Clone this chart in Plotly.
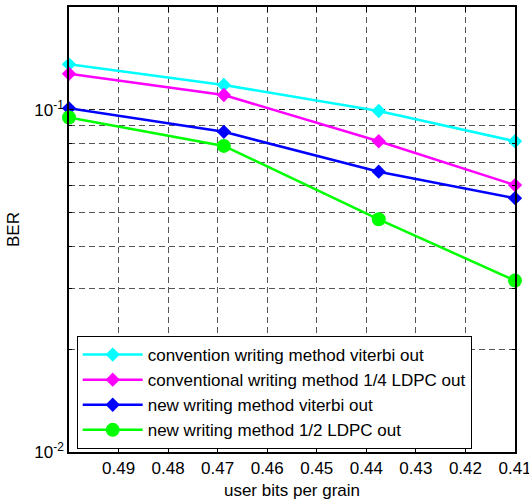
import plotly.graph_objects as go

x_bits = [0.5, 0.46875, 0.4375, 0.41]
conv_viterbi = [0.136, 0.1183, 0.0993, 0.081]
conv_ldpc14 = [0.1276, 0.1106, 0.081, 0.0603]
new_viterbi = [0.1011, 0.0863, 0.066, 0.0552]
new_ldpc12 = [0.0950, 0.0785, 0.0479, 0.0317]

names = [
    "convention writing method viterbi out",
    "conventional writing method 1/4 LDPC out",
    "new writing method viterbi out",
    "new writing method 1/2 LDPC out",
]
series = [conv_viterbi, conv_ldpc14, new_viterbi, new_ldpc12]
colors = ["#00FFFF", "#FF00FF", "#0000FF", "#00FF00"]
symbols = ["diamond", "diamond", "diamond", "circle"]
sizes = [11, 11, 11, 14]

x_ticks = [0.49, 0.48, 0.47, 0.46, 0.45, 0.44, 0.43, 0.42, 0.41]
y_major = [0.01, 0.1]
y_major_text = ["10<sup>-2</sup>", "10<sup>-1</sup>"]
y_minor = [0.02, 0.03, 0.04, 0.05, 0.06, 0.07, 0.08, 0.09]

fig = go.Figure()
for i, (n, s, c, sym, sz) in enumerate(zip(names, series, colors, symbols, sizes)):
    fig.add_trace(go.Scatter(
        x=x_bits, y=s, name=n, mode="lines+markers",
        line=dict(color=c, width=2.5),
        marker=dict(symbol=sym, size=sz, color=c),
        cliponaxis=False, legendgroup=str(i),
    ))

font = dict(family="Liberation Sans, Arial, sans-serif", size=17, color="#000")
fig.update_layout(
    width=529, height=501,
    margin=dict(l=69, r=14, t=7, b=49),
    paper_bgcolor="white", plot_bgcolor="white",
    font=font,
    showlegend=True,
    legend=dict(
        x=0.0173, y=0.2607, xanchor="left", yanchor="top",
        bordercolor="#000", borderwidth=1, bgcolor="white",
        font=font, tracegroupgap=0, itemwidth=60,
    ),
)
fig.update_xaxes(
    range=[0.5, 0.41], tickvals=x_ticks, ticktext=[f"{v:.2f}" for v in x_ticks],
    ticklabeloverflow="allow",
    showline=True, linecolor="#000", linewidth=1.5, mirror="allticks",
    ticks="inside", ticklen=5, tickcolor="#000",
    showgrid=True, gridcolor="#555", griddash="6px,4px", gridwidth=1,
    zeroline=False, automargin=False,
    title=dict(text="user bits per grain", font=font, standoff=7),
)
fig.update_yaxes(
    type="log", range=[-2, -0.699],
    tickvals=y_major, ticktext=y_major_text,
    ticklabeloverflow="allow",
    showline=True, linecolor="#000", linewidth=1.5, mirror="allticks",
    ticks="inside", ticklen=5, tickcolor="#000",
    showgrid=True, gridcolor="#222", griddash="6px,4px", gridwidth=1,
    minor=dict(tickvals=y_minor, ticks="inside", ticklen=3, tickcolor="#000",
               showgrid=True, gridcolor="#555", griddash="6px,4px", gridwidth=1),
    zeroline=False, automargin=False,
    title=dict(text="BER", font=font, standoff=10),
)

fig.write_html("out.html", config={"displayModeBar": False},
               post_script="document.body.style.margin='0';")
